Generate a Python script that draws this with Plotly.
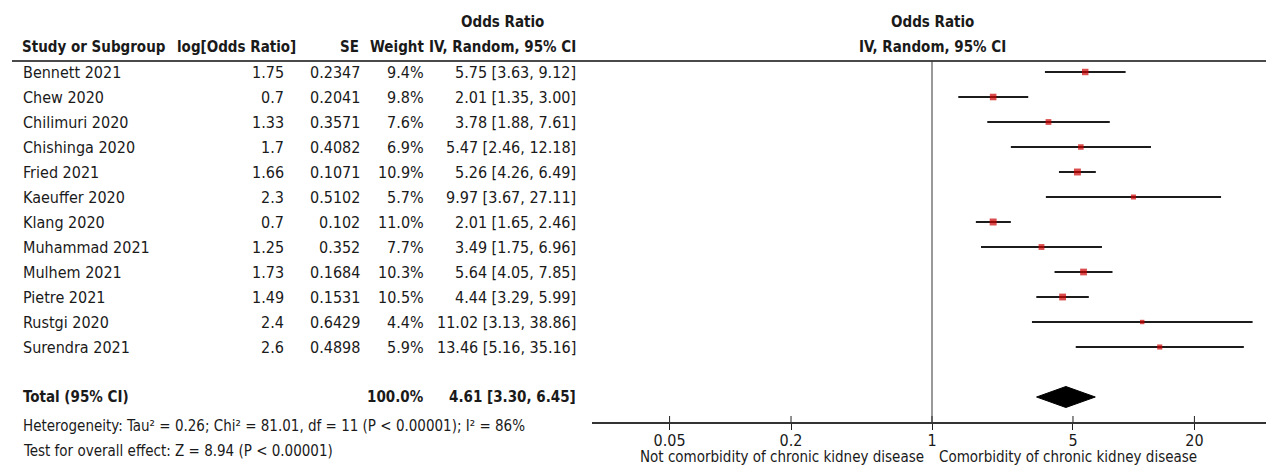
import math
import plotly.graph_objects as go

# ---------------- data ----------------
studies = ["Bennett 2021", "Chew 2020", "Chilimuri 2020", "Chishinga 2020", "Fried 2021",
           "Kaeuffer 2020", "Klang 2020", "Muhammad 2021", "Mulhem 2021", "Pietre 2021",
           "Rustgi 2020", "Surendra 2021"]
log_or = ["1.75", "0.7", "1.33", "1.7", "1.66", "2.3", "0.7", "1.25", "1.73", "1.49", "2.4", "2.6"]
se = ["0.2347", "0.2041", "0.3571", "0.4082", "0.1071", "0.5102", "0.102", "0.352", "0.1684",
      "0.1531", "0.6429", "0.4898"]
weight = [9.4, 9.8, 7.6, 6.9, 10.9, 5.7, 11.0, 7.7, 10.3, 10.5, 4.4, 5.9]
odds = [5.75, 2.01, 3.78, 5.47, 5.26, 9.97, 2.01, 3.49, 5.64, 4.44, 11.02, 13.46]
ci_lo = [3.63, 1.35, 1.88, 2.46, 4.26, 3.67, 1.65, 1.75, 4.05, 3.29, 3.13, 5.16]
ci_hi = [9.12, 3.00, 7.61, 12.18, 6.49, 27.11, 2.46, 6.96, 7.85, 5.99, 38.86, 35.16]

total_label = "Total (95% CI)"
total_weight = "100.0%"
total_or = 4.61
total_lo = 3.30
total_hi = 6.45
heterogeneity = "Heterogeneity: Tau² = 0.26; Chi² = 81.01, df = 11 (P < 0.00001); I² = 86%"
overall = "Test for overall effect: Z = 8.94 (P < 0.00001)"

tick_vals = [0.05, 0.2, 1, 5, 20]
tick_text = ["0.05", "0.2", "1", "5", "20"]
left_label = "Not comorbidity of chronic kidney disease"
right_label = "Comorbidity of chronic kidney disease"

# ---------------- layout geometry (reference pixel coords) ----------------
OFF = 8                      # page body margin in the browser
WF, HF = 1274 - OFF, 467 - OFF
ROW0, ROWH = 72.0, 25.0      # pixel of first row, row height


def prow(p):
    return (p - ROW0) / ROWH


def px(x):
    return (x - OFF) / WF


def py(p):
    return (HF - (p - OFF)) / HF


AXIS_PX = 422
X_LEFT_PX = 592
ONE_PX = 932.0
DEC = 201.7  # px per decade
xr = [-(ONE_PX - X_LEFT_PX) / DEC, (1274 - ONE_PX) / DEC]

FONT = "Liberation Sans Narrow, Arial Narrow, DejaVu Sans Condensed, sans-serif"
TXT = "#1a1a1a"
FS = 16
FSB = 15
FSF = 15

n = len(studies)
rows = list(range(n))
total_row = prow(397)

fig = go.Figure()

# CI lines
lx, ly = [], []
for i in rows:
    lx += [ci_lo[i], ci_hi[i], None]
    ly += [i, i, None]
fig.add_trace(go.Scatter(x=lx, y=ly, mode="lines", line=dict(color="#1c1c1c", width=2),
                         hoverinfo="skip", showlegend=False))

# squares
fig.add_trace(go.Scatter(x=odds, y=rows, mode="markers",
                         marker=dict(symbol="square", color="#cc0000",
                                     size=[2.1 * math.sqrt(w) for w in weight], line=dict(width=0)),
                         showlegend=False))

# diamond
dh = 0.42
fig.add_trace(go.Scatter(x=[total_lo, total_or, total_hi, total_or, total_lo],
                         y=[total_row, total_row - dh, total_row, total_row + dh, total_row],
                         mode="lines", fill="toself", fillcolor="#000000",
                         line=dict(color="#000000", width=1), showlegend=False))

# upper halves of tick marks (crossing the axis line)
tx, ty = [], []
for v in tick_vals:
    tx += [v, v, None]
    ty += [prow(AXIS_PX - 6), prow(AXIS_PX), None]
fig.add_trace(go.Scatter(x=tx, y=ty, mode="lines", line=dict(color="#222", width=1),
                         hoverinfo="skip", showlegend=False, cliponaxis=False))

ann = []


def txt(x, y, s, anchor="left", bold=False, yref="y", size=None):
    if size is None:
        size = FSB if bold else FS
    ann.append(dict(x=px(x), y=y, xref="paper", yref=yref, text=f"<b>{s}</b>" if bold else s,
                    showarrow=False, xanchor=anchor, yanchor="middle",
                    font=dict(family=FONT, size=size, color=TXT)))


# headers
txt(502, prow(22), "Odds Ratio", "center", True)
txt(20, prow(47), "Study or Subgroup", "left", True)
txt(298, prow(47), "log[Odds Ratio]", "right", True)
txt(361, prow(47), "SE", "right", True)
txt(426, prow(47), "Weight", "right", True)
txt(578, prow(47), "IV, Random, 95% CI", "right", True)
txt(ONE_PX, prow(22), "Odds Ratio", "center", True)
txt(ONE_PX, prow(47), "IV, Random, 95% CI", "center", True)

for i in rows:
    txt(21, i, studies[i])
    txt(286, i, log_or[i], "right")
    txt(362, i, se[i], "right")
    txt(426, i, f"{weight[i]:.1f}%", "right")
    txt(578, i, f"{odds[i]:.2f} [{ci_lo[i]:.2f}, {ci_hi[i]:.2f}]", "right")

txt(21, total_row, total_label, "left", True)
txt(426, total_row, total_weight, "right", True)
txt(578, total_row, f"{total_or:.2f} [{total_lo:.2f}, {total_hi:.2f}]", "right", True)
txt(21, py(426), heterogeneity, yref="paper", size=FSF)
txt(21, py(451), overall, yref="paper", size=FSF)
txt(926, py(457), left_label, "right", yref="paper", size=FSF)
txt(937, py(457), right_label, "left", yref="paper", size=FSF)

shapes = [
    dict(type="line", xref="paper", yref="y", x0=px(12), x1=1, y0=prow(61), y1=prow(61),
         line=dict(color="#4a4a4a", width=2)),
    dict(type="line", xref="x", yref="y", x0=1, x1=1, y0=prow(61), y1=prow(AXIS_PX),
         line=dict(color="#333333", width=1)),
]

fig.update_layout(
    width=WF, height=HF, margin=dict(l=0, r=0, t=0, b=0),
    paper_bgcolor="white", plot_bgcolor="white",
    xaxis=dict(type="log", range=xr, domain=[px(X_LEFT_PX), 1], tickvals=tick_vals,
               ticktext=tick_text, showgrid=False, zeroline=False, ticklen=6,
               tickwidth=1, tickcolor="#222", anchor="y", showline=True, linecolor="#333",
               linewidth=2, ticks="outside", ticklabelstandoff=-3,
               tickfont=dict(family=FONT, size=FS, color=TXT)),
    yaxis=dict(domain=[py(AXIS_PX), 1], range=[prow(AXIS_PX), prow(OFF)],
               visible=False, showgrid=False, zeroline=False),
    annotations=ann, shapes=shapes, showlegend=False,
)

fig.write_html("out.html")
